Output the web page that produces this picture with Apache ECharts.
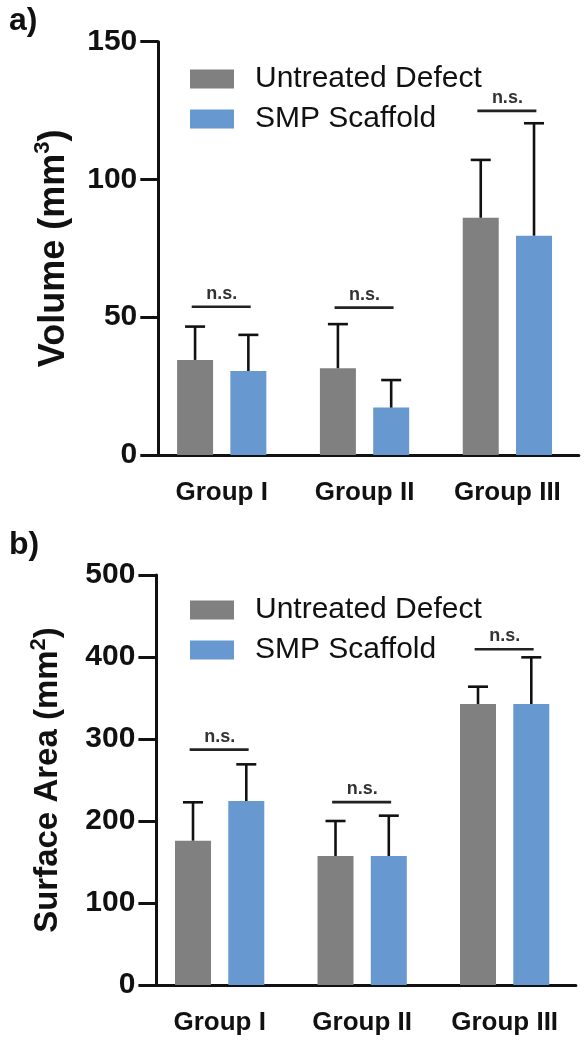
<!DOCTYPE html>
<html>
<head>
<meta charset="utf-8">
<script src="https://cdn.jsdelivr.net/npm/echarts@6/dist/echarts.min.js"></script>
<style>
html,body{margin:0;padding:0;background:#fff;}
#chart{width:586px;height:1050px;}
</style>
</head>
<body>
<div id="chart"></div>
<script>
// ---- data ----
const categories = ['Group I', 'Group II', 'Group III'];
const seriesNames = ['Untreated Defect', 'SMP Scaffold'];

const volUntreated = [34.5, 31.5, 86.1];
const volUntreatedSD = [12.1, 16.0, 21.0];
const volSMP = [30.5, 17.2, 79.6];
const volSMPSD = [13.1, 10.0, 40.8];
const volNS = [53.8, 53.5, 124.9];
const volTicks = { min: 0, max: 150, interval: 50 };

const areaUntreated = [176.0, 157.3, 342.7];
const areaUntreatedSD = [46.8, 42.7, 21.1];
const areaSMP = [224.4, 157.3, 342.7];
const areaSMPSD = [44.7, 49.2, 56.9];
const areaNS = [287, 223, 409.4];
const areaTicks = { min: 0, max: 500, interval: 100 };

const nsLabel = 'n.s.';

// ---- style ----
const FONT = "'Liberation Sans', Arial, sans-serif";
const GRAY = '#808080';
const BLUE = '#6798d0';
const INK = '#111111';
const BAR_W = 36;
const BAR_GAP = 0.48;
const OFF = BAR_W * (1 + BAR_GAP) / 2;

function errSeries(means, sds, sign, axisIdx) {
  return {
    type: 'custom',
    xAxisIndex: axisIdx, yAxisIndex: axisIdx,
    silent: true,
    z: 5,
    encode: { x: 0, y: [1, 2] },
    data: means.map((m, i) => [i, m, m + sds[i]]),
    renderItem: function (params, api) {
      const base = api.coord([api.value(0), api.value(1)]);
      const top = api.coord([api.value(0), api.value(2)]);
      const x = base[0] + sign * OFF;
      const st = { stroke: INK, lineWidth: 2.6 };
      return {
        type: 'group',
        children: [
          { type: 'line', shape: { x1: x, y1: base[1], x2: x, y2: top[1] }, style: st },
          { type: 'line', shape: { x1: x - 10, y1: top[1], x2: x + 10, y2: top[1] }, style: st }
        ]
      };
    }
  };
}

function nsSeries(vals, axisIdx) {
  return {
    type: 'custom',
    xAxisIndex: axisIdx, yAxisIndex: axisIdx,
    silent: true,
    z: 5,
    encode: { x: 0, y: 1 },
    data: vals.map((v, i) => [i, v]),
    renderItem: function (params, api) {
      const p = api.coord([api.value(0), api.value(1)]);
      return {
        type: 'group',
        children: [
          { type: 'line', shape: { x1: p[0] - 30, y1: p[1], x2: p[0] + 29, y2: p[1] },
            style: { stroke: '#222', lineWidth: 2.6 } },
          { type: 'text', x: p[0], y: p[1] - 4,
            style: { text: nsLabel, align: 'center', verticalAlign: 'bottom',
              fontSize: 18, fontWeight: 'bold', fontFamily: FONT, fill: '#333' } }
        ]
      };
    }
  };
}

function barSeries(name, data, color, axisIdx) {
  return {
    name: name, type: 'bar',
    xAxisIndex: axisIdx, yAxisIndex: axisIdx,
    data: data, barWidth: BAR_W, barGap: (BAR_GAP * 100) + '%',
    itemStyle: { color: color },
    silent: true, z: 3
  };
}

function xAxisCfg(gridIndex) {
  return {
    type: 'category', gridIndex: gridIndex, data: categories,
    axisLine: { lineStyle: { color: INK, width: 3 } },
    axisTick: { alignWithLabel: true, length: 20, lineStyle: { color: INK, width: 3 } },
    axisLabel: { fontSize: 26, fontWeight: 'bold', fontFamily: FONT, color: INK, margin: 25 }
  };
}

function yAxisCfg(gridIndex, ticks, nameRich, nameSize, nameGap) {
  return {
    type: 'value', gridIndex: gridIndex,
    min: ticks.min, max: ticks.max, interval: ticks.interval,
    offset: -8,
    splitLine: { show: false },
    axisLine: { show: true, lineStyle: { color: INK, width: 3 } },
    axisTick: { show: true, length: 18, lineStyle: { color: INK, width: 3 } },
    axisLabel: { fontSize: 30, fontWeight: 'bold', fontFamily: FONT, color: INK, margin: 21 },
    name: nameRich,
    nameLocation: 'middle',
    nameRotate: 90,
    nameGap: nameGap,
    nameTextStyle: {
      fontFamily: FONT, color: INK,
      rich: {
        a: { fontSize: nameSize, fontWeight: 'bold', fontFamily: FONT, color: INK, lineHeight: nameSize + 7 },
        sup: { fontSize: 22, fontWeight: 'bold', fontFamily: FONT, color: INK, verticalAlign: 'top', lineHeight: 22, padding: [0, 0, 12, 0] }
      }
    }
  };
}

function legendCfg(top) {
  return {
    orient: 'vertical', left: 185, top: top,
    data: seriesNames,
    icon: 'rect', itemWidth: 44, itemHeight: 19, itemGap: 10,
    selectedMode: false,
    textStyle: { fontSize: 30, fontFamily: FONT, color: INK, lineHeight: 30, padding: [0, 0, 0, 16] }
  };
}

const chart = echarts.init(document.getElementById('chart'), null, { renderer: 'canvas' });
chart.setOption({
  animation: false,
  backgroundColor: '#ffffff',
  title: [
    { text: 'a)', left: 4, top: 0, textStyle: { fontSize: 32, fontWeight: 'bold', fontFamily: FONT, color: INK } },
    { text: 'b)', left: 4, top: 524, textStyle: { fontSize: 32, fontWeight: 'bold', fontFamily: FONT, color: INK } }
  ],
  legend: [legendCfg(59), legendCfg(590)],
  grid: [
    { left: 150.3, top: 41.7, width: 428.5, height: 413.3 },
    { left: 148.4, top: 575, width: 427.5, height: 410 }
  ],
  xAxis: [xAxisCfg(0), xAxisCfg(1)],
  yAxis: [
    yAxisCfg(0, volTicks, '{a|Volume (mm}{sup|3}{a|)}', 36, 83),
    yAxisCfg(1, areaTicks, '{a|Surface Area (mm}{sup|2}{a|)}', 33, 88)
  ],
  series: [
    barSeries(seriesNames[0], volUntreated, GRAY, 0),
    barSeries(seriesNames[1], volSMP, BLUE, 0),
    errSeries(volUntreated, volUntreatedSD, -1, 0),
    errSeries(volSMP, volSMPSD, 1, 0),
    nsSeries(volNS, 0),
    barSeries(seriesNames[0], areaUntreated, GRAY, 1),
    barSeries(seriesNames[1], areaSMP, BLUE, 1),
    errSeries(areaUntreated, areaUntreatedSD, -1, 1),
    errSeries(areaSMP, areaSMPSD, 1, 1),
    nsSeries(areaNS, 1)
  ]
});
</script>
</body>
</html>
